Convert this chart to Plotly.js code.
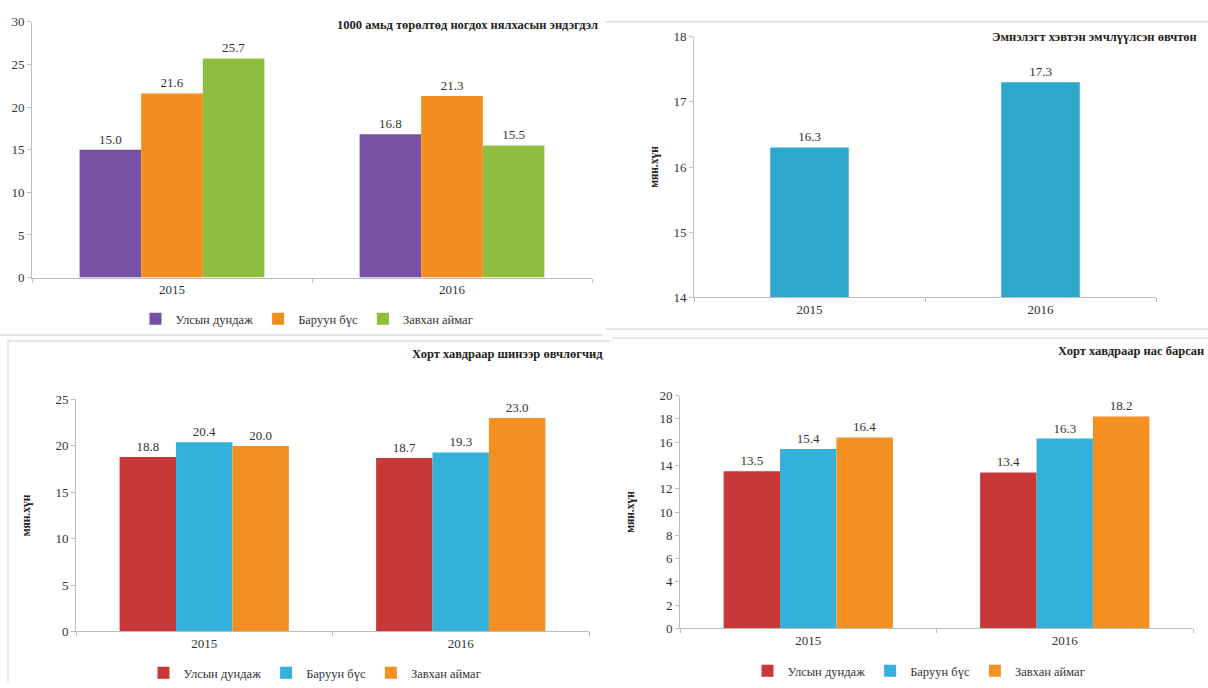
<!DOCTYPE html>
<html><head><meta charset="utf-8">
<script src="https://cdn.plot.ly/plotly-3.0.1.min.js"></script>
<style>html,body{margin:0;padding:0;background:#fff}#chart{width:1208px;height:688px}</style>
</head><body><div id="chart"></div>
<script>
// ---- data ----
const years = ['2015', '2016'];
const seriesNames = ['Улсын дундаж', 'Баруун бүс', 'Завхан аймаг'];

// Chart 1: 1000 амьд төрөлтөд ногдох нялхасын эндэгдэл
const infantUlsyn = [15.0, 16.8];
const infantBaruun = [21.6, 21.3];
const infantZavkhan = [25.7, 15.5];

// Chart 2: Эмнэлэгт хэвтэн эмчлүүлсэн өвчтөн (мян.хүн)
const inpatients = [16.3, 17.3];

// Chart 3: Хорт хавдраар шинээр өвчлөгчид (мян.хүн)
const cancerNewUlsyn = [18.8, 18.7];
const cancerNewBaruun = [20.4, 19.3];
const cancerNewZavkhan = [20.0, 23.0];

// Chart 4: Хорт хавдраар нас барсан (мян.хүн)
const cancerDeathUlsyn = [13.5, 13.4];
const cancerDeathBaruun = [15.4, 16.3];
const cancerDeathZavkhan = [16.4, 18.2];

const titles = ['1000 амьд төрөлтөд ногдох нялхасын эндэгдэл', 'Эмнэлэгт хэвтэн эмчлүүлсэн өвчтөн',
  'Хорт хавдраар шинээр өвчлөгчид', 'Хорт хавдраар нас барсан'];
const unitLabel = 'мян.хүн';

// ---- styling ----
const FONT = '"Liberation Serif", "DejaVu Serif", serif';
const colors1 = ['#7651a3', '#f38d1f', '#8fbd3e'];
const colors34 = ['#c83838', '#33b1da', '#f39021'];
const color2 = '#2ea7cc';

function bars(x, y, name, color, xa, ya, legend, showlegend, width) {
  const t = {
    type: 'bar', x: x, y: y, name: name, xaxis: xa, yaxis: ya,
    legend: legend, showlegend: showlegend,
    marker: {color: color, line: {width: 0}},
    text: y.map(v => v.toFixed(1)), textposition: 'outside', cliponaxis: false,
    textfont: {family: FONT, size: 13, color: '#333'},
    hoverinfo: 'x+y'
  };
  if (width) t.width = width;
  return t;
}

const data = [
  bars(years, infantUlsyn, seriesNames[0], colors1[0], 'x', 'y', 'legend', true),
  bars(years, infantBaruun, seriesNames[1], colors1[1], 'x', 'y', 'legend', true),
  bars(years, infantZavkhan, seriesNames[2], colors1[2], 'x', 'y', 'legend', true),
  bars(years, inpatients, 'Эмнэлэгт хэвтэн', color2, 'x2', 'y2', 'legend', false, 0.34),
  bars(years, cancerNewUlsyn, seriesNames[0], colors34[0], 'x3', 'y3', 'legend2', true),
  bars(years, cancerNewBaruun, seriesNames[1], colors34[1], 'x3', 'y3', 'legend2', true),
  bars(years, cancerNewZavkhan, seriesNames[2], colors34[2], 'x3', 'y3', 'legend2', true),
  bars(years, cancerDeathUlsyn, seriesNames[0], colors34[0], 'x4', 'y4', 'legend3', true),
  bars(years, cancerDeathBaruun, seriesNames[1], colors34[1], 'x4', 'y4', 'legend3', true),
  bars(years, cancerDeathZavkhan, seriesNames[2], colors34[2], 'x4', 'y4', 'legend3', true)
];

const W = 1208, H = 688;
const px = v => v / W, py = v => 1 - v / H;

function xax(d0, d1, anchor) {
  return {domain: [px(d0), px(d1)], anchor: anchor, type: 'category',
    showline: true, linecolor: '#bdbdbd', linewidth: 1,
    ticks: 'outside', ticklen: 4, tickcolor: '#bdbdbd', tickson: 'boundaries',
    tickfont: {family: FONT, size: 13, color: '#333'}, showgrid: false, zeroline: false, fixedrange: true};
}
function yax(top, bottom, anchor, range, dtick, withTitle, standoff) {
  const a = {domain: [py(bottom), py(top)], anchor: anchor, range: range, dtick: dtick,
    showline: true, linecolor: '#bdbdbd', linewidth: 1,
    ticks: 'outside', ticklen: 4, tickcolor: '#bdbdbd',
    tickfont: {family: FONT, size: 13, color: '#333'}, showgrid: false, zeroline: false, fixedrange: true};
  if (withTitle) a.title = {text: '<b>' + unitLabel + '</b>', font: {family: FONT, size: 11.5, color: '#222'}, standoff: standoff};
  return a;
}

function titleAnn(text, xRight, yTop) {
  return {text: '<b>' + text + '</b>', xref: 'paper', yref: 'paper', x: px(xRight), y: py(yTop),
    xanchor: 'right', yanchor: 'middle', showarrow: false, font: {family: FONT, size: 12.5, color: '#222'}};
}
function legendCfg(cx, cy) {
  return {orientation: 'h', x: px(cx), y: py(cy), xanchor: 'center', yanchor: 'middle',
    font: {family: FONT, size: 12.5, color: '#333'}, bgcolor: 'rgba(0,0,0,0)', itemwidth: 30,
    traceorder: 'normal', itemclick: false, itemdoubleclick: false};
}
function line(x0, y0, x1, y1) {
  return {type: 'line', xref: 'paper', yref: 'paper', x0: px(x0), y0: py(y0), x1: px(x1), y1: py(y1),
    line: {color: '#d0d0d0', width: 1}};
}

const layout = {
  width: W, height: H, margin: {l: 0, r: 0, t: 0, b: 0},
  paper_bgcolor: '#fff', plot_bgcolor: '#fff',
  barmode: 'group', bargap: 0.34, bargroupgap: 0,
  xaxis: xax(32, 592, 'y'), yaxis: yax(22, 280, 'x', [0, 30], 5, false),
  xaxis2: xax(694, 1156, 'y2'), yaxis2: yax(37, 300, 'x2', [14, 18], 1, true, 12),
  xaxis3: xax(76, 589, 'y3'), yaxis3: yax(403, 637, 'x3', [0, 25], 5, true, 22),
  xaxis4: xax(680, 1193, 'y4'), yaxis4: yax(399, 634, 'x4', [0, 20], 2, true, 22),
  legend: legendCfg(307, 322), legend2: legendCfg(315, 679), legend3: legendCfg(919, 677),
  annotations: [titleAnn(titles[0], 600, 25), titleAnn(titles[1], 1199, 37),
    titleAnn(titles[2], 605, 357), titleAnn(titles[3], 1206, 354)],
  shapes: [line(0, 338, 603, 338), line(606, 22, 1208, 22), line(606, 332, 1208, 332),
    line(8, 344, 610, 344), line(8, 344, 8, 688), line(612, 341, 1208, 341)],
  showlegend: true
};

Plotly.newPlot('chart', data, layout, {displayModeBar: false, staticPlot: true});
</script></body></html>
